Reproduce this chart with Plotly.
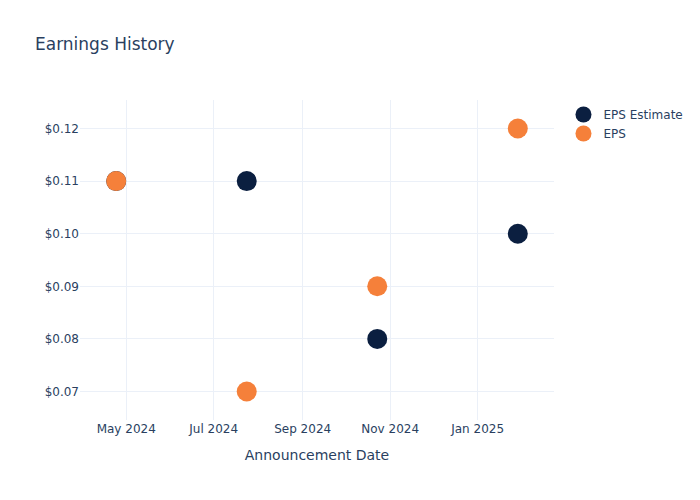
import plotly.graph_objects as go

# announcement dates and EPS values
dates = ["2024-04-24", "2024-07-24", "2024-10-23", "2025-01-29"]
eps_estimate = [0.11, 0.11, 0.08, 0.10]
eps_actual = [0.11, 0.07, 0.09, 0.12]

fig = go.Figure()

fig.add_trace(go.Scatter(
    x=dates,
    y=eps_estimate,
    mode="markers",
    name="EPS Estimate",
    marker=dict(color="#0b1f40", size=20),
))

fig.add_trace(go.Scatter(
    x=dates,
    y=eps_actual,
    mode="markers",
    name="EPS",
    marker=dict(color="#f5803a", size=20),
))

fig.update_layout(
    template="plotly_white",
    width=700,
    height=500,
    font=dict(family="DejaVu Sans"),
    title=dict(text="Earnings History"),
    xaxis=dict(title="Announcement Date"),
    yaxis=dict(tickprefix="$", tickformat=".2f"),
)

# drop the page margin so the figure sits at the window corner
fig.write_html(
    "out.html",
    config={"displayModeBar": False},
    post_script="document.body.style.margin='0';",
)
